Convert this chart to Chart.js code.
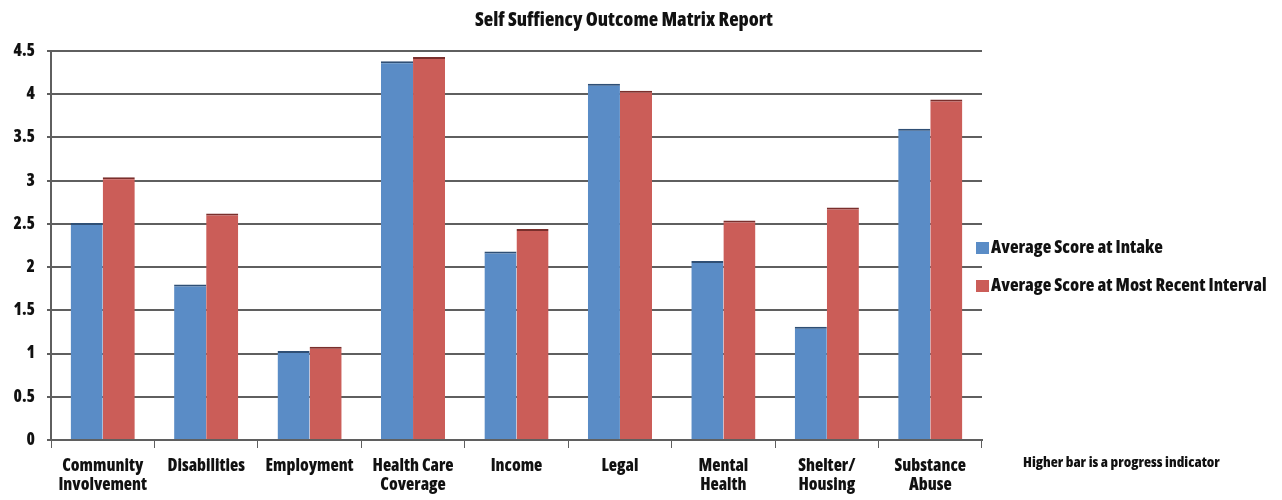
<!DOCTYPE html>
<html>
<head>
<meta charset="utf-8">
<script src="https://cdn.jsdelivr.net/npm/chart.js@4.4.1/dist/chart.umd.min.js"></script>
<style>
  html, body { margin: 0; padding: 0; background: #ffffff; }
  #wrap { width: 1282px; height: 500px; position: relative; }
</style>
</head>
<body>
<div id="wrap"><canvas id="c" width="1282" height="500"></canvas></div>
<script>
const categories = [
  ["Community", "Involvement"],
  ["Disabilities"],
  ["Employment"],
  ["Health Care", "Coverage"],
  ["Income"],
  ["Legal"],
  ["Mental", "Health"],
  ["Shelter/", "Housing"],
  ["Substance", "Abuse"]
];
const seriesNames = ["Average Score at Intake", "Average Score at Most Recent Interval"];
const intakeScores = [2.51, 1.80, 1.03, 4.38, 2.18, 4.12, 2.07, 1.31, 3.60];
const recentScores = [3.04, 2.62, 1.08, 4.43, 2.44, 4.04, 2.54, 2.69, 3.94];
const yTicks = [0, 0.5, 1, 1.5, 2, 2.5, 3, 3.5, 4, 4.5];
const titleText = "Self Suffiency Outcome Matrix Report";
const noteText = "Higher bar is a progress indicator";

const FAMILY = "'Open Sans', 'Roboto Condensed', sans-serif";
const WEIGHT = "condensed 800";
const BLUE = "#5a8cc6";
const RED = "#cb5d58";
const GRID = "#5f5f5f";

function fitFont(ctx, text, targetWidth) {
  ctx.font = WEIGHT + " 20px " + FAMILY;
  const w = ctx.measureText(text).width;
  const size = 20 * targetWidth / w;
  ctx.font = WEIGHT + " " + size.toFixed(2) + "px " + FAMILY;
}

const extras = {
  id: 'extras',
  afterDraw(chart) {
    const ctx = chart.ctx;
    ctx.save();
    ctx.fillStyle = "#111";
    ctx.textBaseline = "middle";
    // title
    ctx.textAlign = "left";
    fitFont(ctx, titleText, 298);
    ctx.fillText(titleText, 475, 20);
    // legend
    const colors = [BLUE, RED];
    const ys = [248, 286];
    fitFont(ctx, seriesNames[0], 172);
    for (let i = 0; i < seriesNames.length; i++) {
      ctx.fillStyle = colors[i];
      ctx.fillRect(976, ys[i] - 6, 13, 12);
      ctx.fillStyle = "#111";
      ctx.fillText(seriesNames[i], 991, ys[i]);
    }
    // note
    fitFont(ctx, noteText, 197);
    ctx.fillText(noteText, 1023, 463);
    ctx.restore();
  }
};

new Chart(document.getElementById('c'), {
  type: 'bar',
  data: {
    labels: categories,
    datasets: [
      { label: seriesNames[0], data: intakeScores, backgroundColor: BLUE,
        borderColor: "#2f4f75", borderWidth: { top: 2, right: 0, left: 0, bottom: 0 }, borderSkipped: 'bottom' },
      { label: seriesNames[1], data: recentScores, backgroundColor: RED,
        borderColor: "#7a2f2c", borderWidth: { top: 2, right: 0, left: 0, bottom: 0 }, borderSkipped: 'bottom' }
    ]
  },
  options: {
    responsive: false,
    animation: false,
    devicePixelRatio: 1,
    layout: { padding: { left: 0, right: 300, top: 51, bottom: 0 } },
    categoryPercentage: 0.62,
    barPercentage: 1.0,
    plugins: {
      legend: { display: false },
      title: { display: false },
      tooltip: { enabled: false }
    },
    scales: {
      x: {
        grid: { display: true, drawOnChartArea: false, drawTicks: true, tickLength: 8, color: GRID, lineWidth: 1, offset: true },
        border: { display: true, color: GRID, width: 2 },
        ticks: { color: "#111", font: { family: FAMILY, size: 17, weight: WEIGHT, lineHeight: 1.15 }, padding: 8, maxRotation: 0, autoSkip: false },
        afterFit(scale) { scale.height = 60; }
      },
      y: {
        min: 0, max: 4.5,
        afterBuildTicks(scale) { scale.ticks = yTicks.map(v => ({ value: v })); },
        grid: { color: GRID, lineWidth: 2, drawTicks: true, tickLength: 4 },
        border: { display: true, color: GRID, width: 2 },
        ticks: { color: "#111", font: { family: FAMILY, size: 17, weight: WEIGHT }, padding: 12,
                 callback: (v) => String(v) },
        afterFit(scale) { scale.width = 51; }
      }
    }
  },
  plugins: [extras]
});
</script>
</body>
</html>
